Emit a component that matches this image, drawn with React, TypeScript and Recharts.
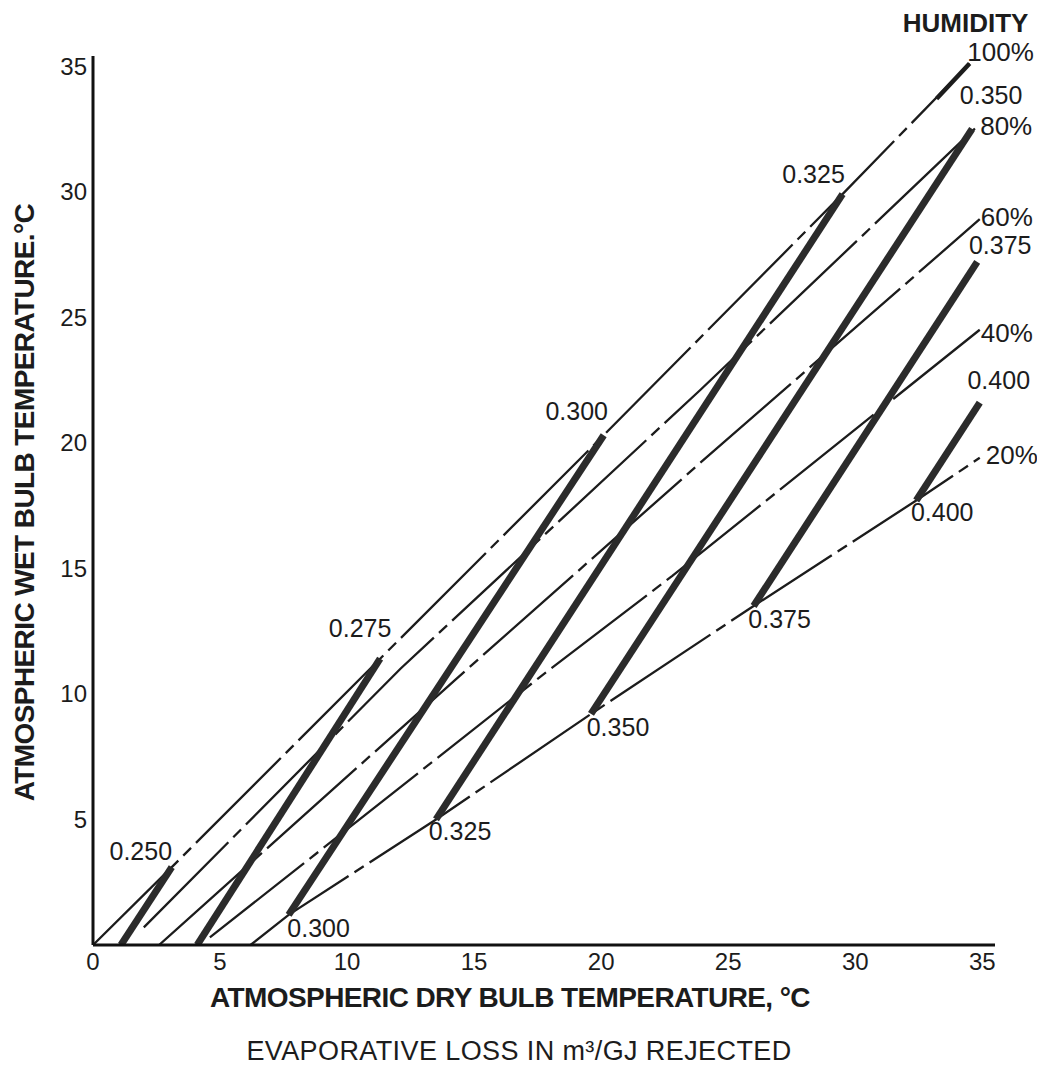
import React from "react";
import { LineChart, Line, XAxis, YAxis, ReferenceDot, Label } from "recharts";

type Pt = { x: number; y: number };

// axis ticks
const xTicks = [0, 5, 10, 15, 20, 25, 30, 35];
const yTicks = [5, 10, 15, 20, 25, 30, 35];

// relative humidity lines: dry bulb (x) vs wet bulb (y), °C
const rh100: Pt[] = [
  { x: 0, y: 0 },
  { x: 3.1, y: 3.1 },
  { x: 11.3, y: 11.4 },
  { x: 20.1, y: 20.3 },
  { x: 29.5, y: 29.9 },
  { x: 34.5, y: 35.1 },
];
const rh100Tip: Pt[] = [
  { x: 33.2, y: 33.7 },
  { x: 34.5, y: 35.1 },
];
const rh80: Pt[] = [
  { x: 2.0, y: 0.7 },
  { x: 12.1, y: 11.0 },
  { x: 23.9, y: 22.1 },
  { x: 34.8, y: 32.6 },
];
const rh60: Pt[] = [
  { x: 2.6, y: 0 },
  { x: 14.3, y: 10.6 },
  { x: 23.9, y: 19.2 },
  { x: 34.9, y: 28.9 },
];
const rh40: Pt[] = [
  { x: 4.6, y: 0.3 },
  { x: 17.5, y: 10.6 },
  { x: 22.8, y: 14.7 },
  { x: 34.9, y: 24.5 },
];
const rh20: Pt[] = [
  { x: 6.2, y: 0 },
  { x: 7.7, y: 1.2 },
  { x: 13.5, y: 5.0 },
  { x: 19.6, y: 9.2 },
  { x: 26.0, y: 13.5 },
  { x: 32.4, y: 17.7 },
  { x: 34.9, y: 19.4 },
];
const humidityNames = ["100%", "80%", "60%", "40%", "20%"];

// constant evaporative loss lines, m3/GJ rejected
const loss250: Pt[] = [
  { x: 1.1, y: 0 },
  { x: 3.1, y: 3.1 },
];
const loss275: Pt[] = [
  { x: 4.1, y: 0 },
  { x: 11.3, y: 11.4 },
];
const loss300: Pt[] = [
  { x: 7.7, y: 1.2 },
  { x: 20.1, y: 20.3 },
];
const loss325: Pt[] = [
  { x: 13.5, y: 5.0 },
  { x: 29.5, y: 29.9 },
];
const loss350: Pt[] = [
  { x: 19.6, y: 9.2 },
  { x: 34.6, y: 32.5 },
];
const loss375: Pt[] = [
  { x: 26.0, y: 13.5 },
  { x: 34.8, y: 27.2 },
];
const loss400: Pt[] = [
  { x: 32.4, y: 17.7 },
  { x: 34.9, y: 21.6 },
];
const lossNames = ["0.250", "0.275", "0.300", "0.325", "0.350", "0.375", "0.400"];

const humiditySeries = [rh100, rh80, rh60, rh40, rh20];
const lossSeries = [loss250, loss275, loss300, loss325, loss350, loss375, loss400];

// label offsets in px from the line ends
const humOffsets = [
  [31, -12],
  [29, 0],
  [27, -2],
  [27, 3],
  [32, -3],
];
const topOffsets = [
  [-31, -16],
  [-20, -31],
  [-27, -24],
  [-29, -20],
  [19, -34],
  [23, -17],
  [19, -23],
];
const bottomOffsets = [null, null, [30, 13], [24, 12], [27, 13], [26, 13], [26, 11]];

const INK = "#1c1c1c";
const FONT = "'Liberation Sans', Arial, Helvetica, sans-serif";

const txt = (x: number, y: number, s: string, size: number, extra: any = {}) => (
  <text
    x={x}
    y={y}
    textAnchor="middle"
    dominantBaseline="central"
    fontSize={size}
    fill={INK}
    fontFamily={FONT}
    {...extra}
  >
    {s}
  </text>
);

export default function App() {
  return (
    <div style={{ fontFamily: FONT }}>
      <LineChart
        width={1036}
        height={1058}
        margin={{ top: 48, right: 49, left: 0, bottom: 81 }}
      >
        <XAxis
          type="number"
          dataKey="x"
          domain={[0, 35.5]}
          ticks={xTicks}
          allowDataOverflow
          height={40}
          tickLine={false}
          tickMargin={2}
          axisLine={{ stroke: "#111", strokeWidth: 3 }}
          tick={{ fill: INK, fontSize: 24 }}
        >
          <Label
            content={(p: any) => {
              const vb = p.viewBox;
              return txt(vb.x + vb.width / 2 - 34, vb.y + 52, "ATMOSPHERIC DRY BULB TEMPERATURE, \u00B0C", 28, {
                fontWeight: 700,
                letterSpacing: -0.6,
              });
            }}
          />
          <Label
            content={(p: any) => {
              const vb = p.viewBox;
              return txt(vb.x + vb.width / 2 - 25, vb.y + 106, "EVAPORATIVE LOSS IN m\u00B3/GJ REJECTED", 27, {
                letterSpacing: 0.4,
              });
            }}
          />
        </XAxis>
        <YAxis
          type="number"
          dataKey="y"
          domain={[0, 35.4]}
          ticks={yTicks}
          allowDataOverflow
          width={85}
          tickLine={false}
          tickMargin={0}
          axisLine={{ stroke: "#111", strokeWidth: 3 }}
          tick={{ fill: INK, fontSize: 24 }}
        >
          <Label
            content={(p: any) => {
              const vb = p.viewBox;
              const cx = vb.x + 16;
              const cy = vb.y + vb.height / 2 + 2;
              return txt(cx, cy, "ATMOSPHERIC WET BULB TEMPERATURE.\u00B0C", 28, {
                fontWeight: 700,
                letterSpacing: -0.6,
                transform: `rotate(-90 ${cx} ${cy})`,
              });
            }}
          />
        </YAxis>

        {humiditySeries.map((d, i) => (
          <Line
            key={"rh" + i}
            data={d}
            dataKey="y"
            type="linear"
            stroke={INK}
            strokeWidth={2.3}
            strokeDasharray="120 7 11 7"
            dot={false}
            activeDot={false}
            isAnimationActive={false}
          />
        ))}
        <Line
          data={rh100Tip}
          dataKey="y"
          type="linear"
          stroke={INK}
          strokeWidth={4.5}
          dot={false}
          activeDot={false}
          isAnimationActive={false}
        />
        {lossSeries.map((d, i) => (
          <Line
            key={"loss" + i}
            data={d}
            dataKey="y"
            type="linear"
            stroke="#2b2b2b"
            strokeWidth={7}
            strokeLinecap="butt"
            dot={false}
            activeDot={false}
            isAnimationActive={false}
          />
        ))}

        {humiditySeries.map((d, i) => {
          const end = d[d.length - 1];
          const [dx, dy] = humOffsets[i];
          return (
            <ReferenceDot
              key={"hl" + i}
              x={end.x}
              y={end.y}
              r={0}
              ifOverflow="visible"
              shape={(p: any) => (
                <g>
                  {txt(p.cx + dx, p.cy + dy, humidityNames[i], 26)}
                  {i === 0 &&
                    txt(p.cx - 4, p.cy - 41, "HUMIDITY", 26, { fontWeight: 700, letterSpacing: 0 })}
                </g>
              )}
            />
          );
        })}
        {lossSeries.map((d, i) => {
          const end = d[d.length - 1];
          const [dx, dy] = topOffsets[i];
          return (
            <ReferenceDot
              key={"lt" + i}
              x={end.x}
              y={end.y}
              r={0}
              ifOverflow="visible"
              shape={(p: any) => txt(p.cx + dx, p.cy + dy, lossNames[i], 25)}
            />
          );
        })}
        {lossSeries.map((d, i) => {
          const off = bottomOffsets[i];
          if (!off) return null;
          const start = d[0];
          return (
            <ReferenceDot
              key={"lb" + i}
              x={start.x}
              y={start.y}
              r={0}
              ifOverflow="visible"
              shape={(p: any) => txt(p.cx + off[0], p.cy + off[1], lossNames[i], 25)}
            />
          );
        })}
      </LineChart>
    </div>
  );
}
